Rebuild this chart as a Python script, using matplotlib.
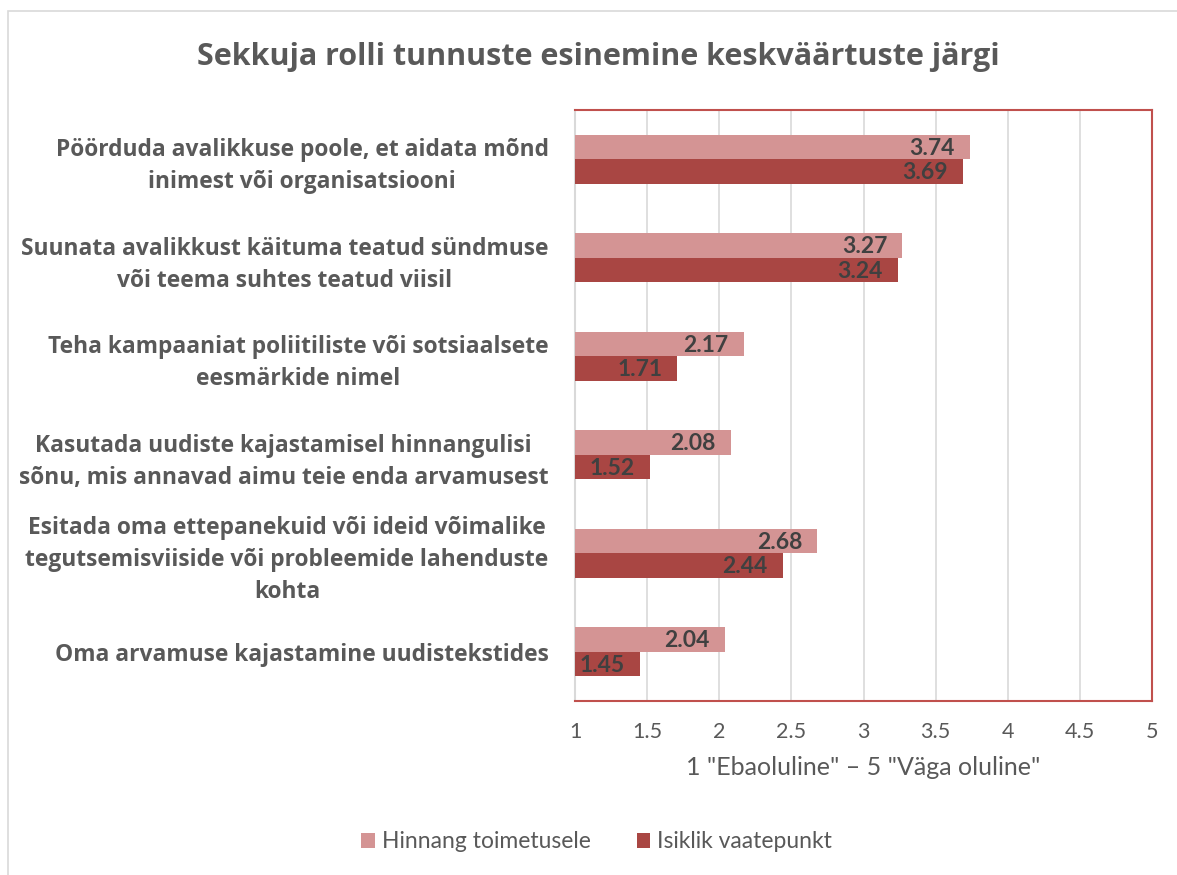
import numpy as np
import matplotlib.pyplot as plt
from matplotlib.patches import Rectangle

categories = [
    "Pöörduda avalikkuse poole, et aidata mõnd\ninimest või organisatsiooni",
    "Suunata avalikkust käituma teatud sündmuse\nvõi teema suhtes teatud viisil",
    "Teha kampaaniat poliitiliste või sotsiaalsete\neesmärkide nimel",
    "Kasutada uudiste kajastamisel hinnangulisi\nsõnu, mis annavad aimu teie enda arvamusest",
    "Esitada oma ettepanekuid või ideid võimalike\ntegutsemisviiside või probleemide lahenduste\nkohta",
    "Oma arvamuse kajastamine uudistekstides",
]
hinnang = [3.74, 3.27, 2.17, 2.08, 2.68, 2.04]
isiklik = [3.69, 3.24, 1.71, 1.52, 2.44, 1.45]
series_names = ["Hinnang toimetusele", "Isiklik vaatepunkt"]
xticks = [1, 1.5, 2, 2.5, 3, 3.5, 4, 4.5, 5]

c_light = "#D49494"
c_dark = "#A94643"
gray = "#595959"

fig = plt.figure(figsize=(11.77, 8.75), dpi=100)
ax = fig.add_axes([575/1177, 1-701/875, (1152-575)/1177, (701-110)/875])

y = np.arange(len(categories))
h = 0.25
b1 = ax.barh(y - h/2, np.array(hinnang) - 1, height=h, left=1, color=c_light,
             label=series_names[0], zorder=3)
b2 = ax.barh(y + h/2, np.array(isiklik) - 1, height=h, left=1, color=c_dark,
             label=series_names[1], zorder=3)

for bars, vals in [(b1, hinnang), (b2, isiklik)]:
    for r, v in zip(bars, vals):
        ax.annotate("%.2f" % v, (v, r.get_y() + r.get_height()/2),
                    xytext=(-11, -1), textcoords="offset points",
                    ha="right", va="center", fontsize=16.5, fontweight="bold",
                    color="#404040", family="Lato", zorder=4)

ax.set_xlim(1, 5)
ax.set_ylim(len(categories) - 0.5, -0.5)
ax.set_xticks(xticks)
ax.set_xticklabels([("%g" % t) for t in xticks], family="Lato", fontsize=15.5, color=gray)
ax.set_yticks(y)
ax.set_yticklabels(categories, family="Open Sans", fontsize=16.4, fontweight="bold",
                   color=gray, multialignment="center", linespacing=1.45)
ax.tick_params(axis="both", length=0)
ax.tick_params(axis="x", pad=15)
ax.tick_params(axis="y", pad=19)
ax.grid(axis="x", color="#D9D9D9", linewidth=1.2, zorder=0)

for s in ["top", "right", "bottom"]:
    ax.spines[s].set_color("#C0504D")
    ax.spines[s].set_linewidth(1.5)
ax.spines["left"].set_color("#D9D9D9")
ax.spines["left"].set_linewidth(1.5)

ax.set_xlabel('1 "Ebaoluline" – 5 "Väga oluline"', family="Lato", fontsize=18,
              color=gray, labelpad=10)

fig.text(0.508, 0.935, "Sekkuja rolli tunnuste esinemine keskväärtuste järgi",
         ha="center", va="center", fontsize=22, fontweight="bold", color=gray,
         family="Open Sans")

fig.legend(handles=[b1, b2], loc="center", bbox_to_anchor=(0.507, 1-842/875), ncol=2,
           frameon=False, prop={"family": "Lato", "size": 16.5}, labelcolor=gray,
           handlelength=0.6, handleheight=0.6, handletextpad=0.3, columnspacing=2.0)

fig.patches.append(Rectangle((8/1177, -0.01), 1.0, 1 - 11/875 + 0.01, transform=fig.transFigure,
                             fill=False, edgecolor="#D9D9D9", linewidth=1.2))

fig.savefig("out.png", dpi=100)
